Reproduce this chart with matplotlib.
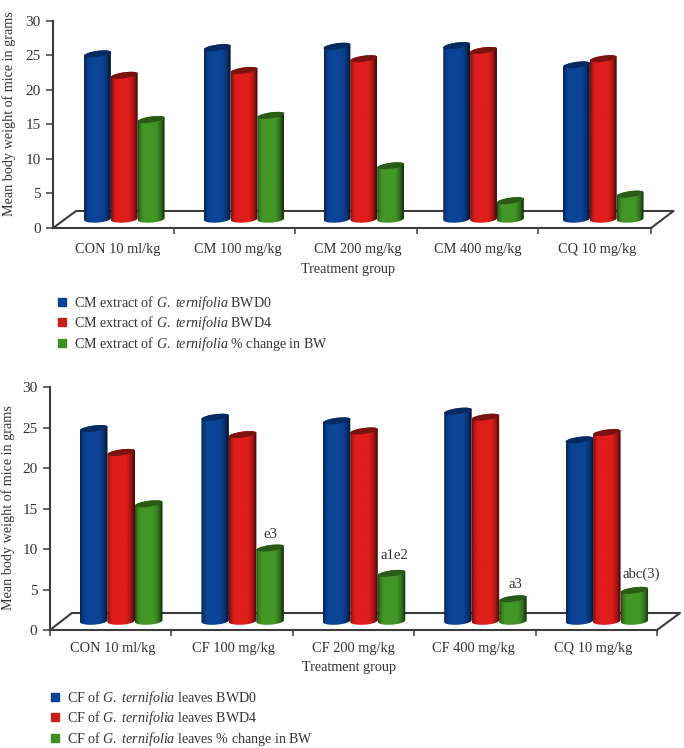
import numpy as np
import matplotlib
matplotlib.use("Agg")
import matplotlib.pyplot as plt
from matplotlib.lines import Line2D
from matplotlib.path import Path

plt.rcParams.update({
    "font.family": "Liberation Serif",
    "mathtext.fontset": "custom",
    "mathtext.rm": "Liberation Serif",
    "mathtext.it": "Liberation Serif:italic",
    "mathtext.bf": "Liberation Serif:bold",
})

W, H = 684, 748
TEXT = "#333333"
LINE = "#3c3c3c"

# ---------- data ----------
cats_top = ["CON 10 ml/kg", "CM 100 mg/kg", "CM 200 mg/kg", "CM 400 mg/kg", "CQ 10 mg/kg"]
bwd0_top = [23.9, 24.8, 25.0, 25.1, 22.3]
bwd4_top = [20.8, 21.5, 23.2, 24.4, 23.2]
change_top = [14.4, 15.0, 7.7, 2.65, 3.6]
legend_top = [r"CM extract of $\mathit{G.\ ternifolia}$ BWD0",
              r"CM extract of $\mathit{G.\ ternifolia}$ BWD4",
              r"CM extract of $\mathit{G.\ ternifolia}$ % change in BW"]

cats_bot = ["CON 10 ml/kg", "CF 100 mg/kg", "CF 200 mg/kg", "CF 400 mg/kg", "CQ 10 mg/kg"]
bwd0_bot = [23.8, 25.2, 24.75, 25.95, 22.4]
bwd4_bot = [20.85, 23.05, 23.5, 25.2, 23.3]
change_bot = [14.5, 9.03, 5.9, 2.76, 3.8]
legend_bot = [r"CF of $\mathit{G.\ ternifolia}$ leaves BWD0",
              r"CF of $\mathit{G.\ ternifolia}$ leaves BWD4",
              r"CF of $\mathit{G.\ ternifolia}$ leaves % change in BW"]
notes_bot = ["", "e3", "a1e2", "a3", "abc(3)"]

yticks = [0, 5, 10, 15, 20, 25, 30]
ylabel = "Mean body weight of mice in grams"
xlabel = "Treatment group"

body_cols = ["#0b4496", "#e01d1a", "#429626"]
cap_cols = ["#082a62", "#7a1210", "#2a5a16"]
leg_cols = ["#0b4496", "#c8201c", "#3f8f25"]

stops = np.array([0, .08, .2, .68, .86, .95, 1.0])
shade = np.array([.5, .82, 1.0, 1.0, .72, .42, .28])
u = np.linspace(0, 1, 64)
gradient = np.interp(u, stops, shade)


def cylinder(ax, left, width, value, base, col, cap, px_y, z):
    """Shaded cylinder whose cap centre sits at value + base (data units)."""
    a = width / 2
    cx = left + a
    b = 3.0 / px_y
    tilt = 1.8 / px_y
    top = value + base
    t1 = np.linspace(0, np.pi, 40)
    t2 = np.linspace(np.pi, 2 * np.pi, 40)
    xs = np.r_[cx + a * np.cos(t1), cx + a * np.cos(t2)]
    ys = np.r_[top + b * np.sin(t1) + tilt * np.cos(t1),
               base + b * 1.2 * np.sin(t2) + tilt * .5 * np.cos(t2)]
    rgb = np.array(matplotlib.colors.to_rgb(col))
    img = (gradient[:, None] * rgb)[None, :, :]
    im = ax.imshow(img, extent=(left, left + width, base - 1, top + 1), aspect="auto",
                   interpolation="bilinear", zorder=z, origin="lower")
    im.set_clip_path(Path(np.c_[xs, ys]), ax.transData)
    t = np.linspace(0, 2 * np.pi, 80)
    ax.fill(cx + a * np.cos(t), top + b * np.sin(t) + tilt * np.cos(t),
            color=cap, lw=0, zorder=z + .5)


def panel(rect, cats, series, legend, legend_xy, end, ticks, group0, step, bw, lab0, base,
          floor, ylab_px, xlab_px, pad, notes=None):
    l, r, t, b = rect
    ax = fig.add_axes([l / W, 1 - b / H, (r - l) / W, (b - t) / H])
    px_y = (b - t) / 30
    for g in range(5):
        for s, vals in enumerate(series):
            cylinder(ax, group0 + g * step + s * bw, bw, vals[g], base,
                     body_cols[s], cap_cols[s], px_y, 5 + s + g * 3)
    # floor of the 3-D box
    fx, fy, fr = floor
    ax.plot([0, fx, fr, end], [0, fy, fy, 0], color=LINE, lw=1.5, clip_on=False, zorder=2)
    ax.set_xlim(0, end)
    ax.set_ylim(0, 30)
    for sp in ("top", "right"):
        ax.spines[sp].set_visible(False)
    for sp in ("left", "bottom"):
        ax.spines[sp].set_linewidth(1.5)
        ax.spines[sp].set_color(LINE)
    ax.set_yticks(yticks)
    ax.tick_params(axis="y", length=5, width=1.1, color=LINE, labelsize=11,
                   labelcolor=TEXT, pad=4)
    ax.set_xticks(ticks)
    ax.set_xticklabels([])
    ax.tick_params(axis="x", which="major", length=4.5, width=1.1, color=LINE)
    ax.set_xticks([lab0 + i * .989 for i in range(5)], minor=True)
    ax.set_xticklabels(cats, minor=True, fontsize=10.4, color=TEXT)
    ax.tick_params(axis="x", which="minor", length=0, pad=pad)
    ax.set_xlabel(xlabel, fontsize=10.2, color=TEXT, va="center")
    ax.xaxis.set_label_coords((xlab_px[0] - l) / (r - l), (b - xlab_px[1]) / (b - t))
    ax.set_ylabel(ylabel, fontsize=10.2, color=TEXT, va="center")
    ax.yaxis.set_label_coords((ylab_px[0] - l) / (r - l), (b - ylab_px[1]) / (b - t))
    if notes:
        for g, (txt, dx, dy) in enumerate(notes):
            if txt:
                ax.annotate(txt, (group0 + g * step + 2.5 * bw, series[2][g] + base),
                            xytext=(dx * 72 / 100, dy * 72 / 100), textcoords="offset points",
                            ha="center", va="center", fontsize=10.6, color=TEXT, zorder=40)
    handles = [Line2D([], [], ls="", marker="s", ms=6, color=c) for c in leg_cols]
    fig.legend(handles, legend, loc="upper left",
               bbox_to_anchor=(legend_xy[0] / W, 1 - legend_xy[1] / H), frameon=False,
               fontsize=10.1, labelcolor=TEXT, borderpad=0, borderaxespad=0,
               handlelength=1.0, handletextpad=.35, labelspacing=.17)
    return ax


fig = plt.figure(figsize=(W / 100, H / 100), dpi=100, facecolor="white")

panel((53, 651, 20.7, 228), cats_top, [bwd0_top, bwd4_top, change_top], legend_top, (55, 294),
      4.934, [1, 2, 3, 4, 4.934], .256, .988, .2215, .537, 1.3,
      (.19, 2.46, 5.12), (9.5, 113.5), (348, 269), 10.5)

note_off = [(t, d[0], d[1]) for t, d in
            zip(notes_bot, [(0, 0), (.5, 14), (3, 18), (3, 14), (7, 16)])]
panel((50, 657, 387.3, 630), cats_bot, [bwd0_bot, bwd4_bot, change_bot], legend_bot, (48, 689),
      5.0, [0, 1, 2, 3, 4, 5.0], .247, 1.0, .2265, .519, 1.1,
      (.18, 2.1, 5.19), (8, 507.5), (349, 668), 8.5, notes=note_off)

fig.savefig("out.png", dpi=100, facecolor="white")
